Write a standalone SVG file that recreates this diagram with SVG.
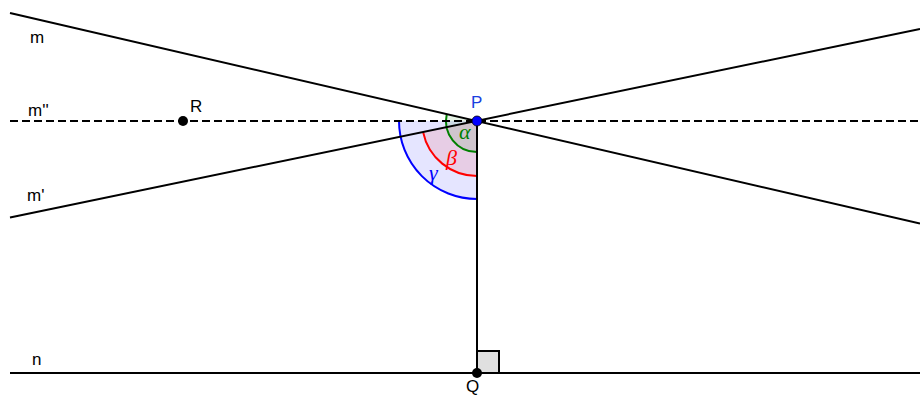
<svg xmlns="http://www.w3.org/2000/svg" width="920" height="397" viewBox="0 0 920 397">
<style>
.ln{stroke:#000;stroke-width:2;fill:none}
.lbl{font-family:"Liberation Sans",Arial,sans-serif;font-size:17px;fill:#000}
.gr{font-family:"Liberation Serif","DejaVu Serif",serif;font-style:italic;font-size:22px}
</style>
<rect width="920" height="397" fill="#fff"/>
<g id="angles">
<g id="gamma">
<path d="M477,121 L399,121 A78,78 0 0 0 477,199 Z" fill="#0000ff" fill-opacity="0.1" stroke="none"/>
<path d="M399,121 A78,78 0 0 0 477,199" fill="none" stroke="#0000ff" stroke-width="2"/>
<text class="gr" x="429" y="180" fill="#0000ff">γ</text>
</g>
<g id="beta">
<path d="M477,121 L423.1,132.1 A55,55 0 0 0 477,176 Z" fill="#ff0000" fill-opacity="0.1" stroke="none"/>
<path d="M423.1,132.1 A55,55 0 0 0 477,176" fill="none" stroke="#ff0000" stroke-width="2"/>
<text class="gr" x="446" y="165" fill="#ff0000">β</text>
</g>
<g id="alpha">
<path d="M477,121 L446.8,114 A31,31 0 0 0 477,152 Z" fill="#008000" fill-opacity="0.1" stroke="none"/>
<path d="M446.8,114 A31,31 0 0 0 477,152" fill="none" stroke="#008000" stroke-width="2"/>
<text class="gr" x="459" y="139" fill="#008000">α</text>
</g>
</g>
<g id="connectors">
<line class="ln" x1="10" y1="13" x2="920" y2="223.5"/>
<line class="ln" x1="10" y1="217.5" x2="920" y2="29"/>
<line class="ln" x1="10" y1="121" x2="920" y2="121" stroke-dasharray="8,4"/>
<line class="ln" x1="10" y1="373" x2="920" y2="373"/>
<line class="ln" x1="477" y1="121" x2="477" y2="373"/>
<rect x="477" y="351" width="22" height="22" fill="#e0e0e0" stroke="#000" stroke-width="2"/>
</g>
<g id="labels">
<text class="lbl" x="30" y="43">m</text>
<text class="lbl" x="28" y="116">m''</text>
<text class="lbl" x="27" y="201">m'</text>
<text class="lbl" x="32" y="365">n</text>
</g>
<g id="R">
<circle cx="183" cy="121" r="5" fill="#000"/>
<text class="lbl" x="190" y="112">R</text>
</g>
<g id="P">
<circle cx="477" cy="121" r="5" fill="#0000ff" stroke="#000" stroke-width="0.8"/>
<text class="lbl" x="471" y="108" style="fill:#1a3fe0">P</text>
</g>
<g id="Q">
<circle cx="477" cy="373" r="5" fill="#000"/>
<text class="lbl" x="466" y="392">Q</text>
</g>
</svg>
